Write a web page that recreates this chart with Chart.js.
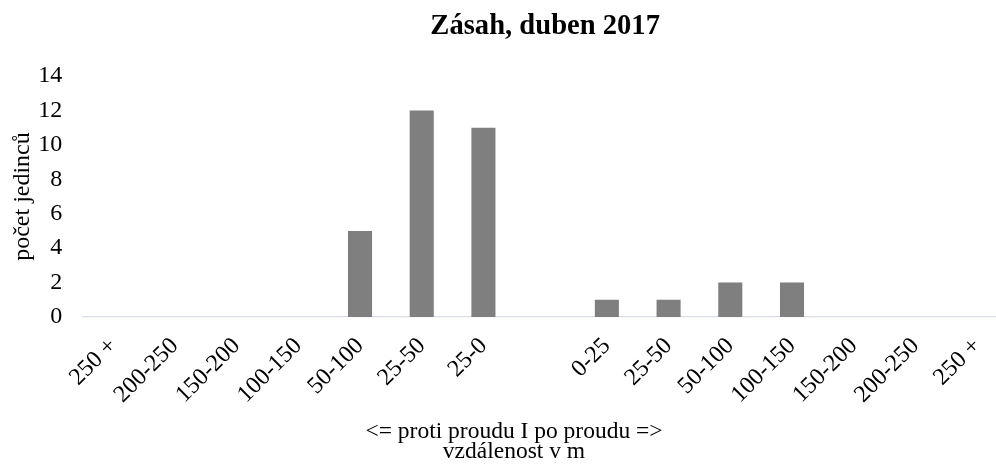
<!DOCTYPE html>
<html>
<head>
<meta charset="utf-8">
<script src="https://cdn.jsdelivr.net/npm/chart.js@4"></script>
<style>
html, body { margin: 0; padding: 0; background: #ffffff; overflow: hidden; }
canvas { display: block; }
</style>
</head>
<body>
<canvas id="c" width="1028" height="468"></canvas>
<script>
const categories = ['250 +', '200-250', '150-200', '100-150', '50-100', '25-50', '25-0', '',
  '0-25', '25-50', '50-100', '100-150', '150-200', '200-250', '250 +'];
const counts = [0, 0, 0, 0, 5, 12, 11, null, 1, 1, 2, 2, 0, 0, 0];
const yTicks = [0, 2, 4, 6, 8, 10, 12, 14];
const titleText = 'Zásah, duben 2017';
const yTitle = 'počet jedinců';
const xTitleLines = ['<= proti proudu I po proudu =>', 'vzdálenost v m'];

Chart.defaults.font.family = "'Liberation Serif', 'Times New Roman', serif";
Chart.defaults.color = '#000000';

new Chart(document.getElementById('c'), {
  type: 'bar',
  data: {
    labels: categories,
    datasets: [{
      data: counts,
      backgroundColor: '#7f7f7f',
      borderWidth: 0,
      categoryPercentage: 1,
      barPercentage: 0.39
    }]
  },
  options: {
    responsive: false,
    animation: false,
    layout: { padding: 0 },
    plugins: {
      legend: { display: false },
      tooltip: { enabled: false },
      title: {
        display: true,
        text: titleText,
        fullSize: false,
        font: { size: 28.6, weight: 'bold', lineHeight: 1.2 },
        padding: { top: 9, bottom: 32.7 },
        color: '#000000'
      },
      subtitle: {
        display: true,
        position: 'bottom',
        text: xTitleLines,
        fullSize: true,
        font: { size: 23.5, weight: 'normal', lineHeight: 0.85 },
        padding: { top: 0, bottom: 6 },
        color: '#000000'
      }
    },
    scales: {
      x: {
        grid: { display: false, drawTicks: false },
        border: { display: true, color: '#d9dee6', width: 1.3 },
        ticks: {
          autoSkip: false,
          minRotation: 45,
          maxRotation: 45,
          padding: 15,
          font: { size: 24 },
          color: '#000000'
        },
        afterFit: (s) => { s.height = 105; }
      },
      y: {
        min: 0,
        max: 14,
        grid: { display: false, drawTicks: false },
        border: { display: false },
        afterBuildTicks: (s) => { s.ticks = yTicks.map(v => ({ value: v })); },
        ticks: {
          padding: 20,
          font: { size: 24 },
          color: '#000000'
        },
        title: {
          display: true,
          text: yTitle,
          font: { size: 24 },
          padding: { top: 8, bottom: 0 },
          color: '#000000'
        },
        afterFit: (s) => { s.width = 82.3; }
      },
      yr: {
        position: 'right',
        display: true,
        grid: { display: false, drawTicks: false },
        border: { display: false },
        ticks: { display: false },
        afterFit: (s) => { s.width = 20; }
      }
    }
  }
});
</script>
</body>
</html>
